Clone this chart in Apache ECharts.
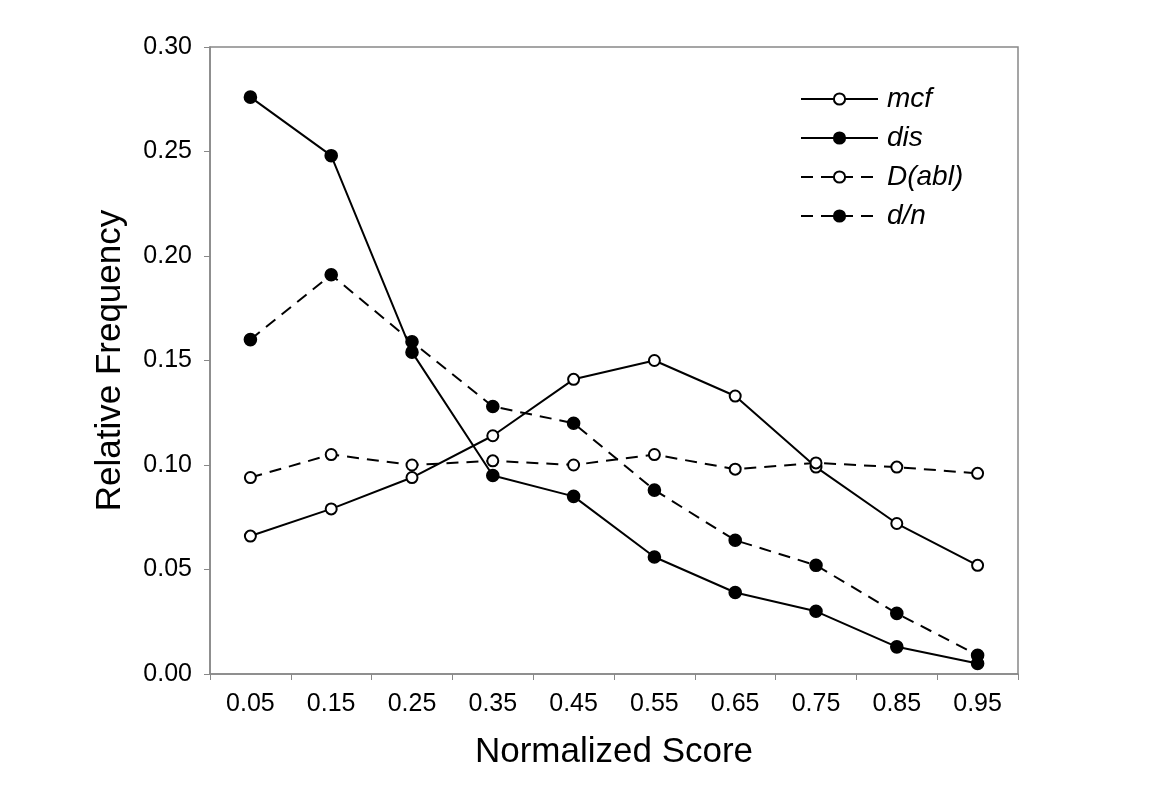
<!DOCTYPE html>
<html>
<head>
    <meta charset="utf-8">
    <title>Normalized Score</title>
    <style>
        html, body { margin: 0; padding: 0; background: #fff; }
    </style>
</head>
<body>
    <div id="main" style="width: 1176px; height: 810px;"></div>
    <script src="https://cdn.jsdelivr.net/npm/echarts@6/dist/echarts.min.js"></script>
    <script type="text/javascript">
        // values
        var categories = ['0.05', '0.15', '0.25', '0.35', '0.45', '0.55', '0.65', '0.75', '0.85', '0.95'];
        var mcf  = [0.066, 0.079, 0.094, 0.114, 0.141, 0.150, 0.133, 0.099, 0.072, 0.052];
        var dis  = [0.276, 0.248, 0.154, 0.095, 0.085, 0.056, 0.039, 0.030, 0.013, 0.005];
        var dAbl = [0.094, 0.105, 0.100, 0.102, 0.100, 0.105, 0.098, 0.101, 0.099, 0.096];
        var dn   = [0.160, 0.191, 0.159, 0.128, 0.120, 0.088, 0.064, 0.052, 0.029, 0.009];

        var font = "'Liberation Sans', Arial, Helvetica, sans-serif";
        var axisGray = '#888';

        function lineSeries(name, data, open, dashed) {
            return {
                name: name,
                type: 'line',
                data: data,
                symbol: open ? 'emptyCircle' : 'circle',
                symbolSize: open ? 11 : 12,
                lineStyle: { color: '#000', width: 2, type: dashed ? [12, 8] : 'solid' },
                itemStyle: { color: '#000', borderColor: '#000', borderWidth: 1.6 }
            };
        }

        var chart = echarts.init(document.getElementById('main'));
        var option = {
            animation: false,
            backgroundColor: '#fff',
            grid: {
                left: 210, right: 158, top: 47, bottom: 136,
                show: true, borderColor: axisGray, borderWidth: 1.5
            },
            legend: {
                orient: 'vertical',
                left: 800, top: 85,
                padding: 0,
                itemWidth: 77, itemHeight: 14, itemGap: 11,
                textStyle: { fontFamily: font, fontSize: 28, fontStyle: 'italic', color: '#000', lineHeight: 28, padding: [0, 0, 0, 4] },
                data: ['mcf', 'dis', 'D(abl)', 'd/n']
            },
            xAxis: {
                type: 'category',
                data: categories,
                boundaryGap: true,
                name: 'Normalized Score',
                nameLocation: 'middle',
                nameGap: 61,
                nameTextStyle: { fontFamily: font, fontSize: 35, color: '#000' },
                axisLine: { lineStyle: { color: axisGray, width: 1.5 } },
                axisTick: { show: true, length: 6, lineStyle: { color: axisGray } },
                axisLabel: { fontFamily: font, fontSize: 25, color: '#000', margin: 18 },
                splitLine: { show: false }
            },
            yAxis: {
                type: 'value',
                min: 0, max: 0.3, interval: 0.05,
                name: 'Relative Frequency',
                nameLocation: 'middle',
                nameGap: 82,
                nameTextStyle: { fontFamily: font, fontSize: 35, color: '#000' },
                axisLine: { show: true, lineStyle: { color: axisGray, width: 1.5 } },
                axisTick: { show: true, length: 6, lineStyle: { color: axisGray } },
                axisLabel: {
                    fontFamily: font, fontSize: 25, color: '#000', margin: 18,
                    formatter: function (v) { return v.toFixed(2); }
                },
                splitLine: { show: false }
            },
            series: [
                lineSeries('mcf', mcf, true, false),
                lineSeries('dis', dis, false, false),
                lineSeries('D(abl)', dAbl, true, true),
                lineSeries('d/n', dn, false, true)
            ]
        };
        chart.setOption(option);
    </script>
</body>
</html>
